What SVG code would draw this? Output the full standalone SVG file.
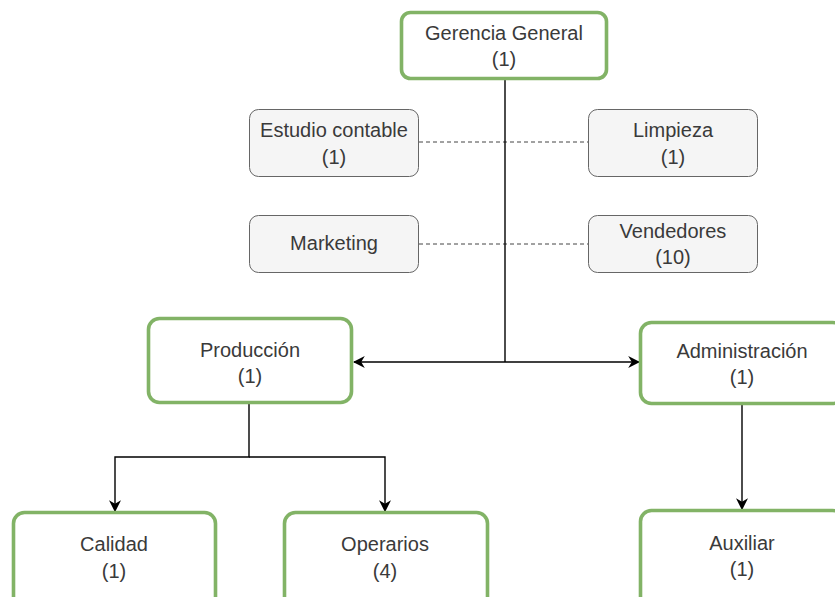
<svg xmlns="http://www.w3.org/2000/svg" width="835" height="597" viewBox="0 0 835 597">
<defs>
<style>
.g{fill:#ffffff;stroke:#82b366;stroke-width:3.6}
.s{fill:#f5f5f5;stroke:#666666;stroke-width:1}
text{font-family:"Liberation Sans",Arial,sans-serif;font-size:20px;fill:#3a3a3a;text-anchor:middle}
.c{fill:none;stroke:#000000;stroke-width:1.4}
.d{fill:none;stroke:#444444;stroke-width:1;stroke-dasharray:4,3}
</style>
<marker id="a" viewBox="0 0 10 10" refX="9" refY="5" markerWidth="12" markerHeight="12" markerUnits="userSpaceOnUse" orient="auto">
<path d="M0,0 L10,5 L0,10 L3,5 Z" fill="#000"/>
</marker>
</defs>
<g id="connectors">
<path class="d" d="M419,142 H588"/>
<path class="d" d="M419,244 H588"/>
<path class="c" d="M505,79 V362"/>
<path class="c" d="M505,362 H354" marker-end="url(#a)"/>
<path class="c" d="M505,362 H639" marker-end="url(#a)"/>
<path class="c" d="M249,402 V457 H115 V511" marker-end="url(#a)"/>
<path class="c" d="M249,457 H385 V511" marker-end="url(#a)"/>
<path class="c" d="M742,403 V509" marker-end="url(#a)"/>
</g>
<g id="gerencia"><rect class="g" x="401.5" y="12.5" width="205" height="66" rx="9"/><text x="504" y="40">Gerencia General</text><text x="504" y="66">(1)</text></g>
<g id="estudio"><rect class="s" x="249.5" y="109.5" width="169" height="67" rx="9"/><text x="334" y="137">Estudio contable</text><text x="334" y="164">(1)</text></g>
<g id="limpieza"><rect class="s" x="588.5" y="109.5" width="169" height="67" rx="9"/><text x="673" y="137">Limpieza</text><text x="673" y="164">(1)</text></g>
<g id="marketing"><rect class="s" x="249.5" y="215.5" width="169" height="57" rx="9"/><text x="334" y="250">Marketing</text></g>
<g id="vendedores"><rect class="s" x="588.5" y="215.5" width="169" height="57" rx="9"/><text x="673" y="238">Vendedores</text><text x="673" y="264">(10)</text></g>
<g id="produccion"><rect class="g" x="148.5" y="318.5" width="203" height="84" rx="11"/><text x="250" y="357">Producción</text><text x="250" y="383">(1)</text></g>
<g id="administracion"><rect class="g" x="640.5" y="322.5" width="203" height="81" rx="11"/><text x="742" y="358">Administración</text><text x="742" y="384">(1)</text></g>
<g id="calidad"><rect class="g" x="13.5" y="512.5" width="202" height="100" rx="11"/><text x="114" y="551">Calidad</text><text x="114" y="578">(1)</text></g>
<g id="operarios"><rect class="g" x="284.5" y="512.5" width="203" height="100" rx="11"/><text x="385" y="551">Operarios</text><text x="385" y="578">(4)</text></g>
<g id="auxiliar"><rect class="g" x="640.5" y="510.5" width="203" height="100" rx="11"/><text x="742" y="550">Auxiliar</text><text x="742" y="576">(1)</text></g>
</svg>
